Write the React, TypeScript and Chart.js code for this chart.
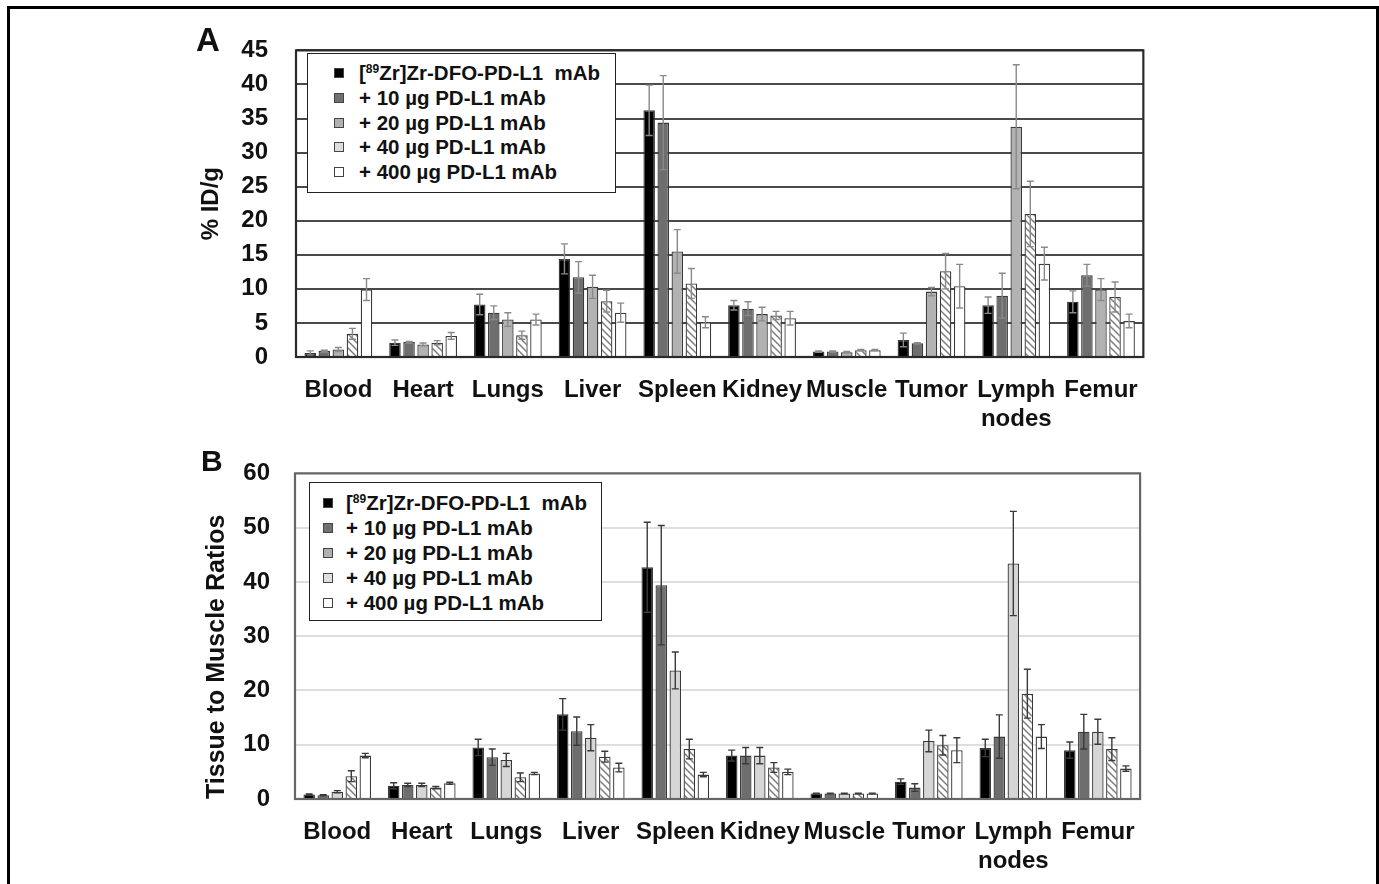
import React, { useEffect, useRef } from 'react';
import { Chart, registerables } from 'chart.js';
Chart.register(...registerables);

const FONT = '"Liberation Sans", Arial, Helvetica, sans-serif';

const categories: (string | string[])[] = ['Blood', 'Heart', 'Lungs', 'Liver', 'Spleen', 'Kidney', 'Muscle', 'Tumor', ['Lymph', 'nodes'], 'Femur'];
const seriesNames = ['[89Zr]Zr-DFO-PD-L1 mAb', '+ 10 µg PD-L1 mAb', '+ 20 µg PD-L1 mAb', '+ 40 µg PD-L1 mAb', '+ 400 µg PD-L1 mAb'];

const ticksA = [0, 5, 10, 15, 20, 25, 30, 35, 40, 45];
const ticksB = [0, 10, 20, 30, 40, 50, 60];

// Panel A: %ID/g
const ctrlA = [0.6, 2.1, 7.7, 14.4, 36.2, 7.6, 0.8, 2.5, 7.6, 8.1];
const ctrlAErr = [0.3, 0.4, 1.5, 2.2, 3.7, 0.7, 0.1, 1.0, 1.2, 1.6];
const d10A = [0.9, 2.2, 6.5, 11.7, 34.4, 7.1, 0.8, 2.0, 9.0, 12.0];
const d10AErr = [0.1, 0.1, 1.0, 2.3, 6.9, 1.0, 0.1, 0.1, 3.3, 1.6];
const d20A = [1.1, 1.85, 5.5, 10.3, 15.5, 6.3, 0.7, 9.6, 33.8, 9.9];
const d20AErr = [0.3, 0.2, 1.0, 1.7, 3.2, 1.0, 0.1, 0.6, 9.1, 1.6];
const d40A = [3.4, 2.1, 3.2, 8.2, 10.8, 6.1, 1.0, 12.6, 21.0, 8.8];
const d40AErr = [0.8, 0.3, 0.6, 1.6, 2.2, 0.6, 0.1, 2.6, 4.8, 2.2];
const d400A = [9.9, 3.1, 5.5, 6.5, 5.1, 5.7, 1.0, 10.4, 13.7, 5.3];
const d400AErr = [1.6, 0.5, 0.8, 1.4, 0.8, 1.0, 0.1, 3.2, 2.4, 1.0];

// Panel B: tissue to muscle ratios
const ctrlB = [0.85, 2.45, 9.5, 15.6, 42.7, 8.0, 1.0, 3.2, 9.4, 9.0];
const ctrlBErr = [0.1, 0.55, 1.5, 2.9, 8.3, 1.0, 0.05, 0.5, 1.6, 1.5];
const d10B = [0.7, 2.6, 7.7, 12.5, 39.4, 8.0, 1.0, 2.1, 11.5, 12.4];
const d10BErr = [0.1, 0.3, 1.5, 2.6, 11.0, 1.5, 0.05, 0.7, 4.0, 3.2];
const d20B = [1.35, 2.6, 7.2, 11.3, 23.7, 8.0, 1.0, 10.7, 43.4, 12.4];
const d20BErr = [0.2, 0.3, 1.2, 2.4, 3.4, 1.5, 0.05, 2.0, 9.6, 2.3];
const d40B = [4.2, 2.1, 4.0, 7.8, 9.2, 5.8, 1.0, 9.9, 19.4, 9.2];
const d40BErr = [1.0, 0.2, 0.8, 1.0, 1.8, 0.9, 0.05, 1.8, 4.5, 2.1];
const d400B = [8.0, 2.9, 4.7, 5.8, 4.5, 5.0, 1.0, 9.0, 11.5, 5.6];
const d400BErr = [0.4, 0.2, 0.2, 0.8, 0.4, 0.5, 0.05, 2.3, 2.2, 0.5];

function hatch(bg: string, line: string): CanvasPattern | string {
  const c = document.createElement('canvas');
  c.width = 7;
  c.height = 7;
  const g = c.getContext('2d');
  if (!g) return bg;
  g.fillStyle = bg;
  g.fillRect(0, 0, 7, 7);
  g.strokeStyle = line;
  g.lineWidth = 1.4;
  g.beginPath();
  g.moveTo(-1, -1); g.lineTo(8, 8);
  g.moveTo(-1, 6); g.lineTo(1, 8);
  g.moveTo(6, -1); g.lineTo(8, 1);
  g.stroke();
  return g.createPattern(c, 'repeat') || bg;
}

type PanelCfg = {
  values: number[][];
  errors: number[][];
  colors: string[];
  ticks: number[];
  title: string;
  titleSize: number;
  titlePad: number;
  titleAlign: 'center' | 'start';
  gridColor: string;
  borderColor: string;
  errColor: string;
  padTop: number;
  padRight: number;
  yWidth: number;
  xHeight: number;
  yTickPad: number;
  width: number;
  height: number;
};

function Panel(props: { cfg: PanelCfg; left: number; top: number }) {
  const ref = useRef<HTMLCanvasElement | null>(null);
  const { cfg } = props;
  useEffect(() => {
    if (!ref.current) return;
    const bgs: (string | CanvasPattern)[] = cfg.colors.map((c, i) => (i === 3 ? hatch('#ffffff', '#7a7a7a') : c));
    const errPlugin = {
      id: 'errAndFrame',
      afterDatasetsDraw(chart: any) {
        const ctx = chart.ctx;
        const y = chart.scales.y;
        ctx.save();
        ctx.strokeStyle = cfg.errColor;
        ctx.lineWidth = 1.4;
        chart.data.datasets.forEach((ds: any, i: number) => {
          const meta = chart.getDatasetMeta(i);
          meta.data.forEach((bar: any, j: number) => {
            const v = ds.data[j];
            const e = cfg.errors[i][j];
            const yt = y.getPixelForValue(v + e);
            const yb = y.getPixelForValue(Math.max(0, v - e));
            const x = bar.x;
            ctx.beginPath();
            ctx.moveTo(x, yt); ctx.lineTo(x, yb);
            ctx.moveTo(x - 3.5, yt); ctx.lineTo(x + 3.5, yt);
            ctx.moveTo(x - 3.5, yb); ctx.lineTo(x + 3.5, yb);
            ctx.stroke();
          });
        });
        const a = chart.chartArea;
        ctx.strokeStyle = cfg.borderColor;
        ctx.lineWidth = 2.2;
        ctx.strokeRect(a.left, a.top, a.right - a.left, a.bottom - a.top);
        ctx.restore();
      },
    };
    const chart = new Chart(ref.current, {
      type: 'bar',
      data: {
        labels: categories,
        datasets: cfg.values.map((vals, i) => ({
          label: seriesNames[i],
          data: vals,
          backgroundColor: bgs[i] as any,
          borderColor: '#3a3a3a',
          borderWidth: 1.3,
          categoryPercentage: 0.83,
          barPercentage: 0.82,
        })),
      },
      options: {
        animation: false,
        responsive: false,
        layout: { padding: { top: cfg.padTop, right: cfg.padRight, left: 0, bottom: 0 } },
        plugins: { legend: { display: false }, tooltip: { enabled: false } },
        scales: {
          x: {
            grid: { display: false, drawTicks: false },
            border: { display: false },
            ticks: {
              color: '#111',
              font: { family: FONT, size: 24, weight: 'bold' },
              padding: 19,
              maxRotation: 0,
              autoSkip: false,
            },
            afterFit: (s: any) => { s.height = cfg.xHeight; },
          },
          y: {
            min: cfg.ticks[0],
            max: cfg.ticks[cfg.ticks.length - 1],
            afterBuildTicks: (s: any) => { s.ticks = cfg.ticks.map((v) => ({ value: v })); },
            grid: { color: cfg.gridColor, lineWidth: 2, drawTicks: false },
            border: { display: false },
            ticks: {
              color: '#111',
              font: { family: FONT, size: 24, weight: 'bold' },
              padding: cfg.yTickPad,
              autoSkip: false,
            },
            title: {
              display: true,
              text: cfg.title,
              color: '#111',
              align: cfg.titleAlign,
              font: { family: FONT, size: cfg.titleSize, weight: 'bold' },
              padding: { top: cfg.titlePad, bottom: 0 },
            },
            afterFit: (s: any) => { s.width = cfg.yWidth; },
          },
        },
      },
      plugins: [errPlugin],
    } as any);
    return () => chart.destroy();
  }, []);
  return (
    <canvas
      ref={ref}
      width={cfg.width}
      height={cfg.height}
      style={{ position: 'absolute', left: props.left, top: props.top, width: cfg.width, height: cfg.height }}
    />
  );
}

const legendSwatches = ['#000000', '#707070', '#b0b0b0', '#dedede', '#ffffff'];

function Legend(props: { left: number; top: number; width: number; height: number; sqLeft: number; textLeft: number; firstY: number; step: number }) {
  const { left, top, width, height, sqLeft, textLeft, firstY, step } = props;
  return (
    <div style={{ position: 'absolute', left, top, width, height, border: '1.6px solid #222', background: '#fff', boxSizing: 'border-box' }}>
      {seriesNames.map((name, i) => {
        const cy = firstY + i * step;
        return (
          <React.Fragment key={i}>
            <div style={{ position: 'absolute', left: sqLeft, top: cy - 6, width: 10, height: 10, boxSizing: 'border-box', background: legendSwatches[i], border: '1.2px solid #444' }} />
            <div style={{ position: 'absolute', left: textLeft, top: cy - 13, height: 26, lineHeight: '26px', whiteSpace: 'nowrap', font: `bold 20.5px ${FONT}`, color: '#111' }}>
              {i === 0 ? (
                <span>[<sup style={{ fontSize: 12, verticalAlign: 'top', lineHeight: '16px' }}>89</sup>Zr]Zr-DFO-PD-L1&nbsp; mAb</span>
              ) : name}
            </div>
          </React.Fragment>
        );
      })}
    </div>
  );
}

const cfgA: PanelCfg = {
  values: [ctrlA, d10A, d20A, d40A, d400A],
  errors: [ctrlAErr, d10AErr, d20AErr, d40AErr, d400AErr],
  colors: ['#000000', '#6e6e6e', '#b2b2b2', '#ffffff', '#ffffff'],
  ticks: ticksA,
  title: '% ID/g',
  titleSize: 24,
  titlePad: 7,
  titleAlign: 'center',
  gridColor: '#4a4a4a',
  borderColor: '#2a2a2a',
  errColor: '#8a8a8a',
  padTop: 0,
  padRight: 7,
  yWidth: 106,
  xHeight: 73,
  yTickPad: 28,
  width: 967,
  height: 422,
};

const cfgB: PanelCfg = {
  values: [ctrlB, d10B, d20B, d40B, d400B],
  errors: [ctrlBErr, d10BErr, d20BErr, d40BErr, d400BErr],
  colors: ['#000000', '#6e6e6e', '#d6d6d6', '#ffffff', '#ffffff'],
  ticks: ticksB,
  title: 'Tissue to Muscle Ratios',
  titleSize: 25,
  titlePad: 12,
  titleAlign: 'start',
  gridColor: '#dedede',
  borderColor: '#666666',
  errColor: '#3a3a3a',
  padTop: 0,
  padRight: 10,
  yWidth: 105,
  xHeight: 85,
  yTickPad: 25,
  width: 964,
  height: 450,
};

export default function App() {
  return (
    <div style={{ position: 'absolute', left: 0, top: 0, width: 1379, height: 884, overflow: 'hidden', background: '#fff', fontFamily: FONT }}>
      <div style={{ position: 'absolute', left: 7, top: 6, width: 1372, height: 900, border: '3px solid #000', boxSizing: 'border-box' }} />
      <Panel cfg={cfgA} left={190} top={8} />
      <Panel cfg={cfgB} left={190} top={434} />
      <div style={{ position: 'absolute', left: 196, top: 21, font: `bold 33px ${FONT}`, color: '#111' }}>A</div>
      <div style={{ position: 'absolute', left: 201, top: 444, font: `bold 30px ${FONT}`, color: '#111' }}>B</div>
      <Legend left={307} top={53} width={309} height={140} sqLeft={26} textLeft={51} firstY={20} step={24.8} />
      <Legend left={309} top={482} width={293} height={139} sqLeft={13} textLeft={36} firstY={21} step={25} />
    </div>
  );
}
